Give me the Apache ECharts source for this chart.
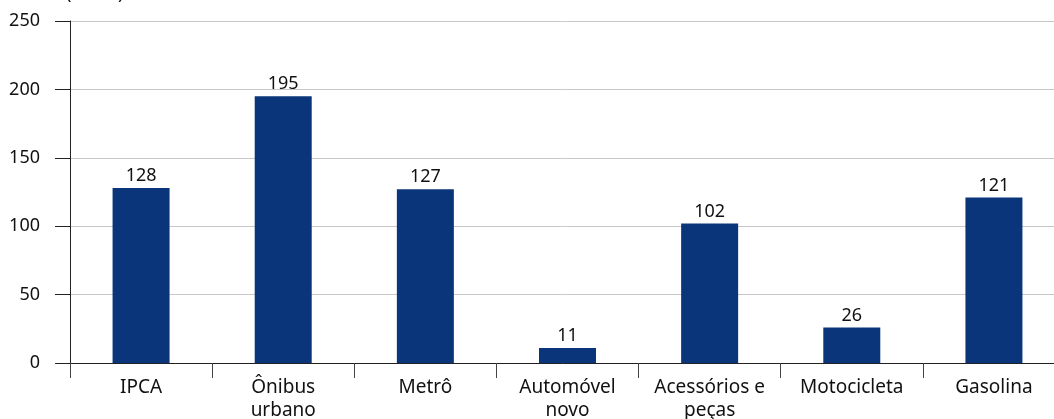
<!DOCTYPE html>
<html>
<head>
<meta charset="utf-8">
<script src="https://cdn.jsdelivr.net/npm/echarts@6/dist/echarts.min.js"></script>
<style>
  html, body { margin: 0; padding: 0; background: #fff; overflow: hidden; }
  #chart { width: 1054px; height: 419px; }
</style>
</head>
<body>
<div id="chart"></div>
<script>
const categories = ["IPCA", "Ônibus\nurbano", "Metrô", "Automóvel\nnovo", "Acessórios e\npeças", "Motocicleta", "Gasolina"];
const values = [128, 195, 127, 11, 102, 26, 121];
const unitLabel = "(Em %)";

const chart = echarts.init(document.getElementById("chart"));
const font = "'Noto Sans', 'Open Sans', sans-serif";

const option = {
  animation: false,
  // the plot runs past the right edge of the picture
  grid: { left: 70, width: 995, top: 21, bottom: 56, outerBoundsMode: "none" },
  xAxis: {
    type: "category",
    data: categories,
    axisLine: { lineStyle: { color: "#222", width: 1 } },
    axisTick: { show: true, length: 15, lineStyle: { color: "#444" } },
    axisLabel: { interval: 0, color: "#111", fontSize: 19, fontFamily: font, margin: 13, lineHeight: 23 },
  },
  yAxis: {
    type: "value",
    min: 0,
    max: 250,
    interval: 50,
    axisLine: { show: true, lineStyle: { color: "#222" } },
    axisTick: { show: true, length: 15, lineStyle: { color: "#222" } },
    axisLabel: { color: "#111", fontSize: 18, fontFamily: font, margin: 30 },
    splitLine: { lineStyle: { color: "#c8c8c8" } },
  },
  series: [
    {
      type: "bar",
      data: values,
      barWidth: 57,
      itemStyle: { color: "#0b357a" },
      label: {
        show: true,
        position: "top",
        distance: 3,
        color: "#111",
        fontSize: 18,
        fontFamily: font,
      },
    },
  ],
  graphic: [
    {
      type: "text",
      left: 66,
      top: -15,
      style: { text: unitLabel, fontSize: 18, fontFamily: font, fill: "#111" },
    },
  ],
};

chart.setOption(option);
</script>
</body>
</html>
